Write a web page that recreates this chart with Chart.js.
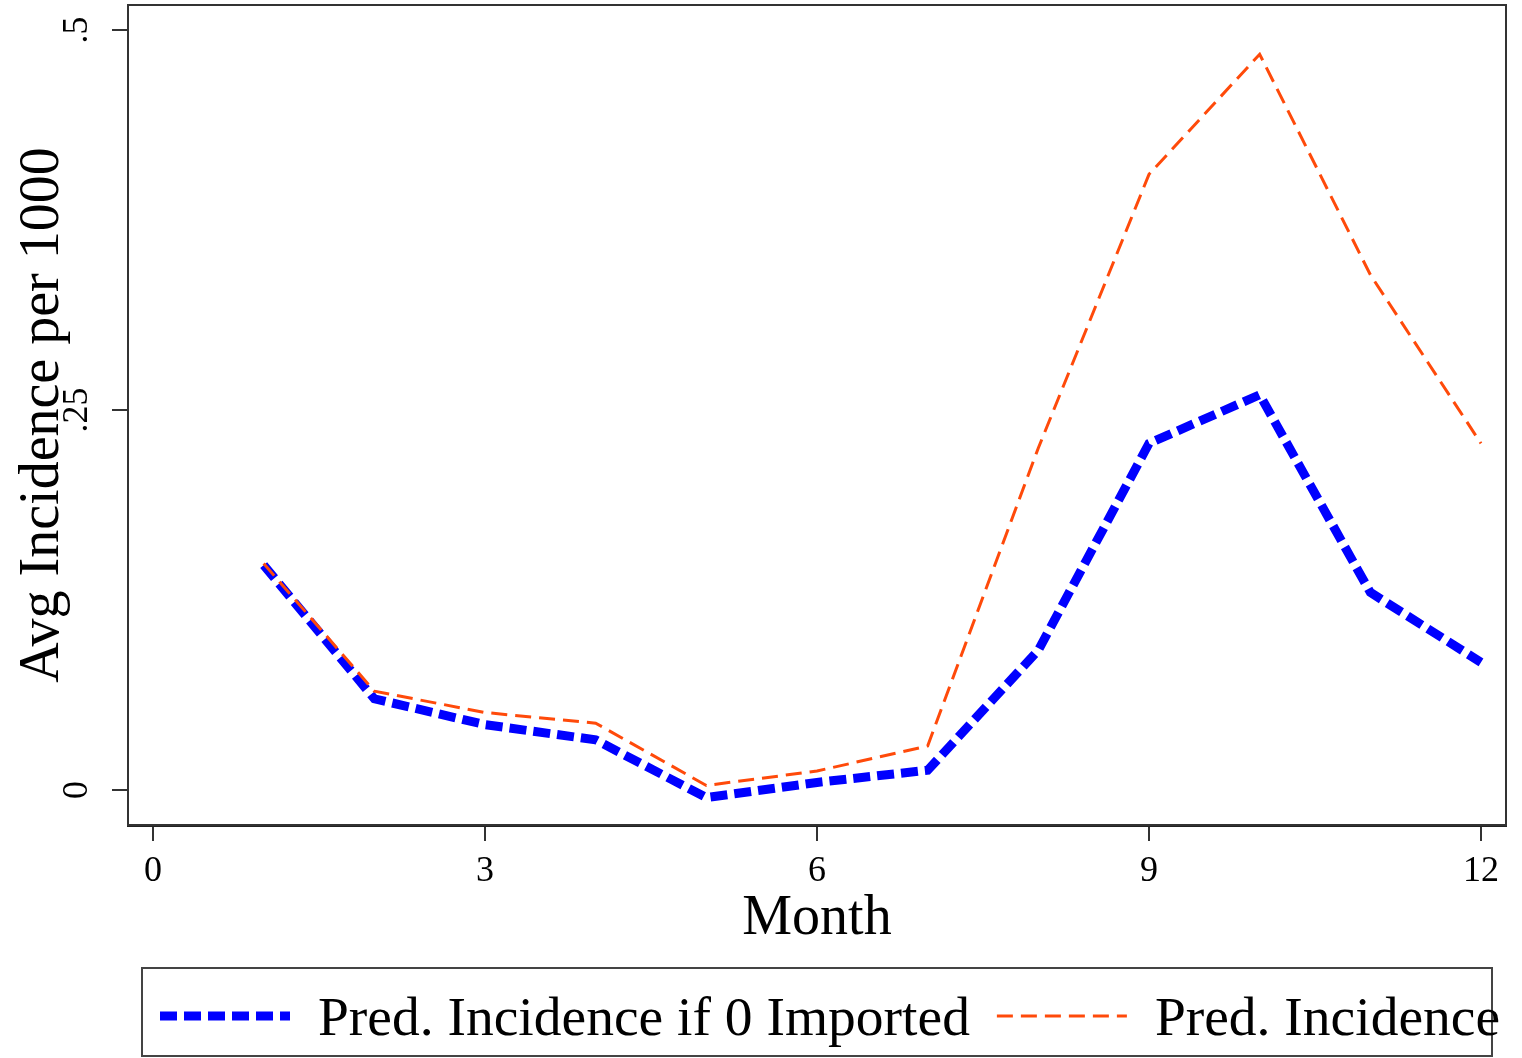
<!DOCTYPE html>
<html>
<head>
<meta charset="utf-8">
<script src="https://cdn.jsdelivr.net/npm/chart.js@4"></script>
<style>
    body { margin: 0; background: #fff; }
    #wrap { width: 1522px; height: 1058px; }
</style>
</head>
<body>
<div id="wrap"><canvas id="incChart"></canvas></div>
<script>
const months = [1, 2, 3, 4, 5, 6, 7, 8, 9, 10, 11, 12];
const predNoImport = [0.148, 0.060, 0.043, 0.033, -0.005, 0.005, 0.013, 0.092, 0.228, 0.260, 0.130, 0.084];
const predIncidence = [0.149, 0.065, 0.051, 0.044, 0.003, 0.0125, 0.029, 0.225, 0.405, 0.484, 0.339, 0.228];
const xTicks = [0, 3, 6, 9, 12];
const yTicks = [0, 0.25, 0.5];
const yTickLabels = ["0", ".25", ".5"];

const serif = "'Liberation Serif', 'Times New Roman', serif";

function toPoints(vals) {
    return months.map((m, i) => ({ x: m, y: vals[i] }));
}

// frame round the plot, rotated y tick labels, boxed legend (Stata style)
const extras = {
    id: "extras",
    afterDraw(chart) {
        const c = chart.ctx;
        const a = chart.chartArea;
        c.save();
        c.strokeStyle = "#333";
        c.lineWidth = 2;
        c.strokeRect(a.left, a.top, a.right - a.left, a.bottom - a.top);

        const ys = chart.scales.y;
        c.fillStyle = "#000";
        c.font = "36px " + serif;
        c.textAlign = "center";
        c.textBaseline = "middle";
        yTicks.forEach((v, i) => {
            c.save();
            c.translate(78, ys.getPixelForValue(v));
            c.rotate(-Math.PI / 2);
            c.fillText(yTickLabels[i], 0, 0);
            c.restore();
        });

        // legend
        c.strokeStyle = "#444";
        c.lineWidth = 2;
        c.strokeRect(142, 968, 1350, 88);
        c.font = "55.5px " + serif;
        c.textAlign = "left";
        c.textBaseline = "alphabetic";
        let x = 160;
        const ly = 1016;
        chart.data.datasets.forEach(ds => {
            c.save();
            c.strokeStyle = ds.borderColor;
            c.lineWidth = ds.borderWidth;
            c.setLineDash(ds.borderDash);
            c.beginPath();
            c.moveTo(x, ly);
            c.lineTo(x + 130, ly);
            c.stroke();
            c.restore();
            x += 130 + 28;
            c.fillStyle = "#000";
            c.fillText(ds.label, x, 1035);
            x += c.measureText(ds.label).width + 27;
        });
        c.restore();
    }
};

new Chart(document.getElementById("incChart"), {
    type: "line",
    data: {
        datasets: [{
            label: "Pred. Incidence if 0 Imported",
            data: toPoints(predNoImport),
            borderColor: "#0000ff",
            backgroundColor: "rgba(0,0,0,0)",
            borderWidth: 9,
            borderDash: [17, 7],
            pointRadius: 0,
            tension: 0,
            order: 1
        }, {
            label: "Pred. Incidence",
            data: toPoints(predIncidence),
            borderColor: "#ff4a0a",
            backgroundColor: "rgba(0,0,0,0)",
            borderWidth: 3,
            borderDash: [16, 8],
            pointRadius: 0,
            tension: 0,
            order: 0
        }]
    },
    options: {
        responsive: true,
        maintainAspectRatio: false,
        animation: false,
        layout: { padding: { top: 5, right: 16, bottom: 91, left: 0 } },
        plugins: {
            tooltip: { enabled: false },
            legend: { display: false }
        },
        scales: {
            x: {
                type: "linear",
                min: -0.226,
                max: 12.226,
                afterBuildTicks: s => { s.ticks = xTicks.map(v => ({ value: v })); },
                grid: { drawOnChartArea: false, drawTicks: true, tickLength: 16, color: "#333", lineWidth: 2 },
                border: { display: true, color: "#222", width: 3 },
                ticks: {
                    color: "#000",
                    padding: 13,
                    maxRotation: 0,
                    font: { family: serif, size: 36, lineHeight: 1 }
                },
                title: {
                    display: true,
                    text: "Month",
                    color: "#000",
                    padding: { top: -12, bottom: 20 },
                    font: { family: serif, size: 56, lineHeight: 1 }
                }
            },
            y: {
                min: -0.023,
                max: 0.5164,
                afterBuildTicks: s => { s.ticks = yTicks.map(v => ({ value: v })); },
                grid: { drawOnChartArea: false, drawTicks: true, tickLength: 16, color: "#333", lineWidth: 2 },
                border: { display: true, color: "#222", width: 2 },
                ticks: { display: false },
                title: {
                    display: true,
                    text: "Avg Incidence per 1000",
                    color: "#000",
                    padding: { top: 15, bottom: 41 },
                    font: { family: serif, size: 56, lineHeight: 1 }
                }
            }
        }
    },
    plugins: [extras]
});
</script>
</body>
</html>
